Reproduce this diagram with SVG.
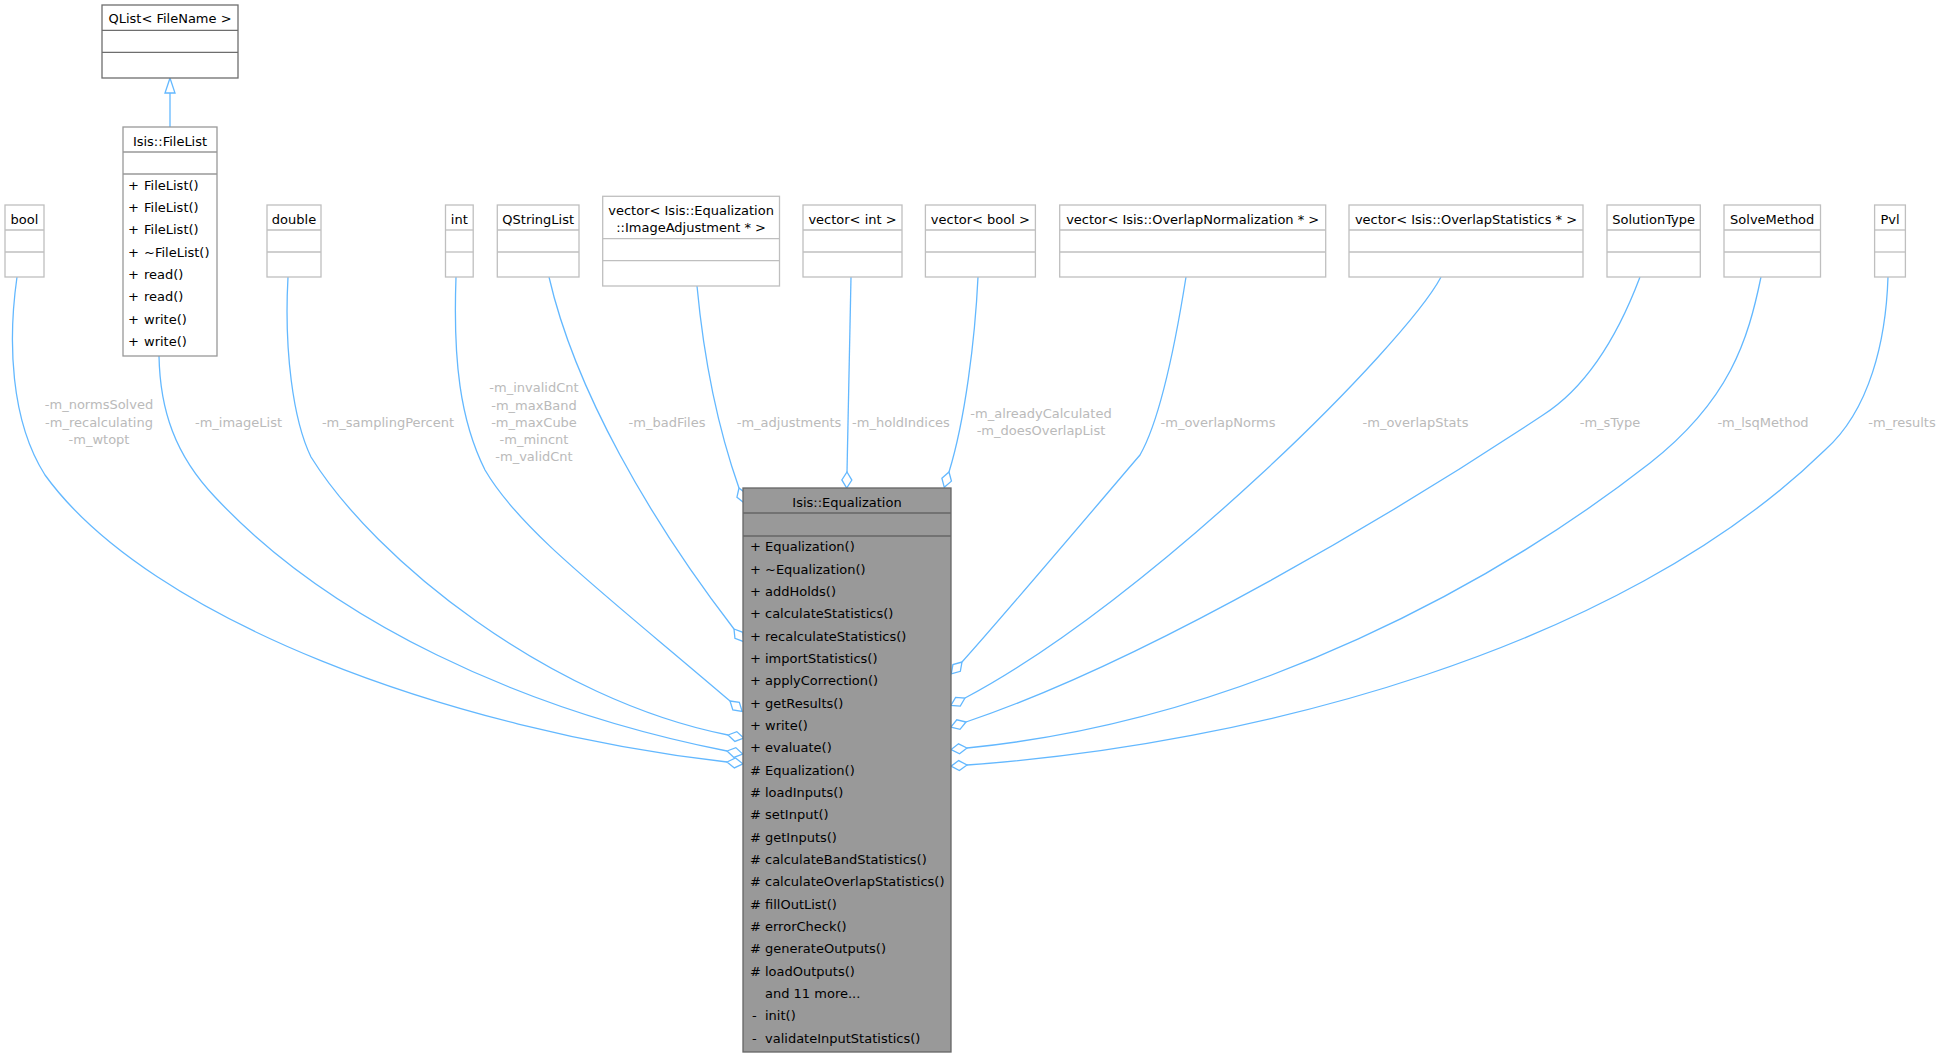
<svg xmlns="http://www.w3.org/2000/svg" width="1943" height="1058" viewBox="0 0 1943 1058">
<style>
text{font-family:"DejaVu Sans","Liberation Sans",sans-serif;font-size:13px;fill:#000}
.c{text-anchor:middle}
.lbl{fill:#bababa;text-anchor:middle}
.leaf{fill:#fff;stroke:#bfbfbf;stroke-width:1.3}
.sep{stroke:#bfbfbf;stroke-width:1.3}
.e{fill:none;stroke:#63b8ff;stroke-width:1.3;marker-end:url(#dia)}
</style>
<defs>
<marker id="dia" markerUnits="userSpaceOnUse" markerWidth="20" markerHeight="14" refX="0" refY="6" orient="auto" viewBox="-1 0 20 12">
<path d="M0,6 L8,1 L16,6 L8,11 Z" fill="none" stroke="#63b8ff" stroke-width="1.3"/>
</marker>
</defs>
<rect width="1943" height="1058" fill="#fff"/>

<g id="connectors">
<path class="e" d="M17,277 C8,340 10,420 45,475 C150,620 450,730 727,762"/>
<path class="e" d="M159,356 C160,410 175,455 215,497 C330,620 520,710 727,751"/>
<path class="e" d="M288,277 C284,350 293,420 311,457 C375,560 550,700 728,735"/>
<path class="e" d="M456,277 C453,360 460,420 485,470 C520,530 600,590 730,701"/>
<path class="e" d="M549,277 C575,390 650,520 734,629"/>
<path class="e" d="M697,286 C703,350 715,420 739,488"/>
<path class="e" d="M851,277 C850,350 848,420 847,472"/>
<path class="e" d="M978,277 C975,340 965,420 949,472"/>
<path class="e" d="M1186,277 C1176,340 1160,420 1140,455 C1110,490 1000,620 962,662"/>
<path class="e" d="M1441,277 C1405,345 1150,600 965,698"/>
<path class="e" d="M1640,277 C1620,330 1590,385 1543,415 C1400,510 1150,660 966,722"/>
<path class="e" d="M1761,277 C1748,340 1730,400 1650,463 C1500,580 1250,720 967,748"/>
<path class="e" d="M1888,277 C1886,340 1870,410 1825,450 C1620,650 1250,745 967,765"/>
<path d="M170,127 L170,93" fill="none" stroke="#63b8ff" stroke-width="1.3"/>
<polygon points="170,78 165,93 175,93" fill="#fff" stroke="#63b8ff" stroke-width="1.3"/>
<g id="edge-labels">
<text class="lbl" x="99" y="409.4">-m_normsSolved</text>
<text class="lbl" x="99" y="426.7">-m_recalculating</text>
<text class="lbl" x="99" y="444">-m_wtopt</text>
<text class="lbl" x="238.5" y="426.7">-m_imageList</text>
<text class="lbl" x="388" y="426.7">-m_samplingPercent</text>
<text class="lbl" x="534" y="392.4">-m_invalidCnt</text>
<text class="lbl" x="534" y="409.6">-m_maxBand</text>
<text class="lbl" x="534" y="426.8">-m_maxCube</text>
<text class="lbl" x="534" y="444">-m_mincnt</text>
<text class="lbl" x="534" y="461.2">-m_validCnt</text>
<text class="lbl" x="667" y="426.7">-m_badFiles</text>
<text class="lbl" x="789" y="426.7">-m_adjustments</text>
<text class="lbl" x="901" y="426.7">-m_holdIndices</text>
<text class="lbl" x="1041" y="418">-m_alreadyCalculated</text>
<text class="lbl" x="1041" y="435.3">-m_doesOverlapList</text>
<text class="lbl" x="1218" y="426.7">-m_overlapNorms</text>
<text class="lbl" x="1415.5" y="426.7">-m_overlapStats</text>
<text class="lbl" x="1610" y="426.7">-m_sType</text>
<text class="lbl" x="1763" y="426.7">-m_lsqMethod</text>
<text class="lbl" x="1902" y="426.7">-m_results</text>
</g>
</g>

<g id="node-qlist">
<rect x="102" y="5" width="136" height="73" fill="#fff" stroke="#6e6e6e" stroke-width="1.3"/>
<line x1="102" y1="30.3" x2="238" y2="30.3" stroke="#6e6e6e" stroke-width="1.3"/>
<line x1="102" y1="52.3" x2="238" y2="52.3" stroke="#6e6e6e" stroke-width="1.3"/>
<text class="c" x="170" y="23">QList&lt; FileName &gt;</text>
</g>

<g id="node-filelist">
<rect x="123" y="127" width="94" height="229" fill="#fff" stroke="#999" stroke-width="1.3"/>
<line x1="123" y1="152" x2="217" y2="152" stroke="#999" stroke-width="1.3"/>
<line x1="123" y1="174" x2="217" y2="174" stroke="#999" stroke-width="1.3"/>
<text class="c" x="170" y="145.5">Isis::FileList</text>
<text x="128" y="189.7">+</text><text x="144" y="189.7">FileList()</text>
<text x="128" y="212">+</text><text x="144" y="212">FileList()</text>
<text x="128" y="234.3">+</text><text x="144" y="234.3">FileList()</text>
<text x="128" y="256.6">+</text><text x="144" y="256.6">~FileList()</text>
<text x="128" y="278.9">+</text><text x="144" y="278.9">read()</text>
<text x="128" y="301.2">+</text><text x="144" y="301.2">read()</text>
<text x="128" y="323.5">+</text><text x="144" y="323.5">write()</text>
<text x="128" y="345.8">+</text><text x="144" y="345.8">write()</text>
</g>

<g id="node-bool">
<rect class="leaf" x="5" y="205" width="39" height="72"/>
<line class="sep" x1="5" y1="230" x2="44" y2="230"/><line class="sep" x1="5" y1="252" x2="44" y2="252"/>
<text class="c" x="24.5" y="223.5">bool</text>
</g>
<g id="node-double">
<rect class="leaf" x="267" y="205" width="54" height="72"/>
<line class="sep" x1="267" y1="230" x2="321" y2="230"/><line class="sep" x1="267" y1="252" x2="321" y2="252"/>
<text class="c" x="294" y="223.5">double</text>
</g>
<g id="node-int">
<rect class="leaf" x="445.5" y="205" width="27.7" height="72"/>
<line class="sep" x1="445.5" y1="230" x2="473.2" y2="230"/><line class="sep" x1="445.5" y1="252" x2="473.2" y2="252"/>
<text class="c" x="459.3" y="223.5">int</text>
</g>
<g id="node-qstringlist">
<rect class="leaf" x="497.3" y="205" width="81.7" height="72"/>
<line class="sep" x1="497.3" y1="230" x2="579" y2="230"/><line class="sep" x1="497.3" y1="252" x2="579" y2="252"/>
<text class="c" x="538.2" y="223.5">QStringList</text>
</g>
<g id="node-vec-imageadj">
<rect class="leaf" x="602.7" y="196.3" width="176.8" height="89.7"/>
<line class="sep" x1="602.7" y1="238.7" x2="779.5" y2="238.7"/><line class="sep" x1="602.7" y1="260.7" x2="779.5" y2="260.7"/>
<text class="c" x="691.1" y="215.4">vector&lt; Isis::Equalization</text>
<text class="c" x="691.1" y="232">::ImageAdjustment * &gt;</text>
</g>
<g id="node-vec-int">
<rect class="leaf" x="803" y="205" width="99" height="72"/>
<line class="sep" x1="803" y1="230" x2="902" y2="230"/><line class="sep" x1="803" y1="252" x2="902" y2="252"/>
<text class="c" x="852.5" y="223.5">vector&lt; int &gt;</text>
</g>
<g id="node-vec-bool">
<rect class="leaf" x="925.4" y="205" width="110" height="72"/>
<line class="sep" x1="925.4" y1="230" x2="1035.4" y2="230"/><line class="sep" x1="925.4" y1="252" x2="1035.4" y2="252"/>
<text class="c" x="980.4" y="223.5">vector&lt; bool &gt;</text>
</g>
<g id="node-vec-overlapnorm">
<rect class="leaf" x="1059.7" y="205" width="266" height="72"/>
<line class="sep" x1="1059.7" y1="230" x2="1325.7" y2="230"/><line class="sep" x1="1059.7" y1="252" x2="1325.7" y2="252"/>
<text class="c" x="1192.7" y="223.5">vector&lt; Isis::OverlapNormalization * &gt;</text>
</g>
<g id="node-vec-overlapstats">
<rect class="leaf" x="1349" y="205" width="234" height="72"/>
<line class="sep" x1="1349" y1="230" x2="1583" y2="230"/><line class="sep" x1="1349" y1="252" x2="1583" y2="252"/>
<text class="c" x="1466" y="223.5">vector&lt; Isis::OverlapStatistics * &gt;</text>
</g>
<g id="node-solutiontype">
<rect class="leaf" x="1607" y="205" width="93.3" height="72"/>
<line class="sep" x1="1607" y1="230" x2="1700.3" y2="230"/><line class="sep" x1="1607" y1="252" x2="1700.3" y2="252"/>
<text class="c" x="1653.6" y="223.5">SolutionType</text>
</g>
<g id="node-solvemethod">
<rect class="leaf" x="1724" y="205" width="96.5" height="72"/>
<line class="sep" x1="1724" y1="230" x2="1820.5" y2="230"/><line class="sep" x1="1724" y1="252" x2="1820.5" y2="252"/>
<text class="c" x="1772.2" y="223.5">SolveMethod</text>
</g>
<g id="node-pvl">
<rect class="leaf" x="1874.6" y="205" width="30.8" height="72"/>
<line class="sep" x1="1874.6" y1="230" x2="1905.4" y2="230"/><line class="sep" x1="1874.6" y1="252" x2="1905.4" y2="252"/>
<text class="c" x="1890" y="223.5">Pvl</text>
</g>

<g id="node-equalization">
<rect x="743" y="488" width="208" height="564" fill="#999" stroke="#666" stroke-width="1.3"/>
<line x1="743" y1="513" x2="951" y2="513" stroke="#666" stroke-width="1.3"/>
<line x1="743" y1="536" x2="951" y2="536" stroke="#666" stroke-width="1.3"/>
<text class="c" x="847" y="507">Isis::Equalization</text>
<text x="750" y="551.4">+</text><text x="765" y="551.4">Equalization()</text>
<text x="750" y="573.7">+</text><text x="765" y="573.7">~Equalization()</text>
<text x="750" y="596.1">+</text><text x="765" y="596.1">addHolds()</text>
<text x="750" y="618.4">+</text><text x="765" y="618.4">calculateStatistics()</text>
<text x="750" y="640.7">+</text><text x="765" y="640.7">recalculateStatistics()</text>
<text x="750" y="663.1">+</text><text x="765" y="663.1">importStatistics()</text>
<text x="750" y="685.4">+</text><text x="765" y="685.4">applyCorrection()</text>
<text x="750" y="707.7">+</text><text x="765" y="707.7">getResults()</text>
<text x="750" y="730.1">+</text><text x="765" y="730.1">write()</text>
<text x="750" y="752.4">+</text><text x="765" y="752.4">evaluate()</text>
<text x="750" y="774.7">#</text><text x="765" y="774.7">Equalization()</text>
<text x="750" y="797.1">#</text><text x="765" y="797.1">loadInputs()</text>
<text x="750" y="819.4">#</text><text x="765" y="819.4">setInput()</text>
<text x="750" y="841.7">#</text><text x="765" y="841.7">getInputs()</text>
<text x="750" y="864.1">#</text><text x="765" y="864.1">calculateBandStatistics()</text>
<text x="750" y="886.4">#</text><text x="765" y="886.4">calculateOverlapStatistics()</text>
<text x="750" y="908.7">#</text><text x="765" y="908.7">fillOutList()</text>
<text x="750" y="931.1">#</text><text x="765" y="931.1">errorCheck()</text>
<text x="750" y="953.4">#</text><text x="765" y="953.4">generateOutputs()</text>
<text x="750" y="975.7">#</text><text x="765" y="975.7">loadOutputs()</text>
<text x="765" y="998.1">and 11 more...</text>
<text x="752" y="1020.4">-</text><text x="765" y="1020.4">init()</text>
<text x="752" y="1042.7">-</text><text x="765" y="1042.7">validateInputStatistics()</text>
</g>
</svg>
